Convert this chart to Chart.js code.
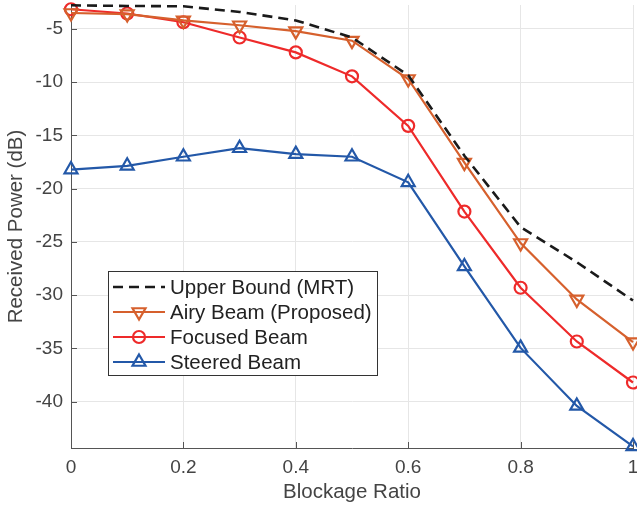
<!DOCTYPE html>
<html>
<head>
<meta charset="utf-8">
<script src="https://cdn.jsdelivr.net/npm/chart.js@4.4.0/dist/chart.umd.min.js"></script>
<style>
  html, body { margin: 0; padding: 0; background: #fff; }
  #wrap { width: 637px; height: 508px; }
</style>
</head>
<body>
<div id="wrap"><canvas id="power-chart" width="637" height="508"></canvas></div>
<script>
// Received power vs. blockage ratio
const blockage = [0, 0.1, 0.2, 0.3, 0.4, 0.5, 0.6, 0.7, 0.8, 0.9, 1.0];
const upperBound = [-2.78, -2.84, -2.87, -3.4, -4.2, -5.8, -9.35, -16.9, -23.6, -26.9, -30.5];
const airyBeam = [-3.5, -3.6, -4.2, -4.65, -5.2, -6.1, -9.7, -17.55, -25.1, -30.4, -34.4];
const focusedBeam = [-3.15, -3.55, -4.37, -5.8, -7.2, -9.45, -14.1, -22.15, -29.3, -34.35, -38.2];
const steeredBeam = [-18.2, -17.85, -17.0, -16.2, -16.75, -17.0, -19.4, -27.3, -34.95, -40.4, -44.2];
const seriesNames = ['Upper Bound (MRT)', 'Airy Beam (Proposed)', 'Focused Beam', 'Steered Beam'];

const FONT = '"Liberation Sans", Arial, Helvetica, sans-serif';
const pts = arr => arr.map((v, i) => ({ x: blockage[i], y: v }));

// inward tick marks on the bottom and left axes
const inwardTicks = {
    id: 'inwardTicks',
    afterDatasetsDraw(chart) {
        const { ctx, chartArea, scales } = chart;
        ctx.save();
        ctx.strokeStyle = '#555';
        ctx.lineWidth = 1;
        ctx.beginPath();
        scales.x.ticks.forEach(t => {
            const px = Math.round(scales.x.getPixelForValue(t.value)) + 0.5;
            ctx.moveTo(px, chartArea.bottom);
            ctx.lineTo(px, chartArea.bottom - 6);
        });
        scales.y.ticks.forEach(t => {
            const py = Math.round(scales.y.getPixelForValue(t.value)) + 0.5;
            ctx.moveTo(chartArea.left, py);
            ctx.lineTo(chartArea.left + 6, py);
        });
        ctx.stroke();
        ctx.restore();
    }
};

// boxed legend inside the plot, lower left
const boxLegend = {
    id: 'boxLegend',
    afterDraw(chart) {
        const ctx = chart.ctx;
        const x0 = 108.5, y0 = 271.5, w = 269, h = 104;
        ctx.save();
        ctx.fillStyle = '#fff';
        ctx.fillRect(x0, y0, w, h);
        ctx.strokeStyle = '#333';
        ctx.lineWidth = 1;
        ctx.strokeRect(x0, y0, w, h);
        chart.data.datasets.forEach((ds, i) => {
            const y = 287 + i * 25;
            ctx.strokeStyle = ds.borderColor;
            ctx.lineWidth = ds.borderWidth;
            ctx.setLineDash(ds.borderDash || []);
            ctx.beginPath();
            ctx.moveTo(113, y);
            ctx.lineTo(165, y);
            ctx.stroke();
            ctx.setLineDash([]);
            if (ds.pointRadius > 0) {
                ctx.fillStyle = 'rgba(0,0,0,0)';
                ctx.strokeStyle = ds.pointBorderColor;
                ctx.lineWidth = ds.pointBorderWidth;
                Chart.helpers.drawPoint(ctx, {
                    pointStyle: ds.pointStyle,
                    rotation: ds.pointRotation || 0,
                    radius: ds.pointRadius,
                    borderWidth: ds.pointBorderWidth
                }, 139, y);
            }
            ctx.fillStyle = '#222';
            ctx.font = '20.5px ' + FONT;
            ctx.textBaseline = 'middle';
            ctx.textAlign = 'left';
            ctx.fillText(ds.label, 170, y + 1);
        });
        ctx.restore();
    }
};

const lineSet = (label, data, color, extra) => Object.assign({
    label: label,
    data: pts(data),
    borderColor: color,
    borderWidth: 2.2,
    pointBorderColor: color,
    pointBackgroundColor: 'rgba(0,0,0,0)',
    pointBorderWidth: 2.2,
    pointHoverRadius: 0,
    clip: false,
    tension: 0
}, extra);

new Chart(document.getElementById('power-chart').getContext('2d'), {
    type: 'line',
    data: {
        datasets: [
            lineSet(seriesNames[0], upperBound, '#1a1a1a', { borderDash: [10, 6], borderWidth: 2.6, pointRadius: 0 }),
            lineSet(seriesNames[1], airyBeam, '#D6602D', { pointStyle: 'triangle', pointRotation: 180, pointRadius: 7.5 }),
            lineSet(seriesNames[2], focusedBeam, '#EE2A2A', { pointStyle: 'circle', pointRadius: 6 }),
            lineSet(seriesNames[3], steeredBeam, '#2358A8', { pointStyle: 'triangle', pointRadius: 7.5 })
        ]
    },
    options: {
        responsive: false,
        devicePixelRatio: 1,
        animation: false,
        layout: { autoPadding: false, padding: { left: 0, right: 4, top: 5, bottom: 0 } },
        plugins: {
            legend: { display: false },
            tooltip: { enabled: false }
        },
        scales: {
            x: {
                type: 'linear',
                min: 0,
                max: 1,
                afterFit: s => { s.height = 60; s.paddingLeft = 0; s.paddingRight = 0; },
                ticks: {
                    stepSize: 0.2,
                    padding: 8,
                    color: '#444',
                    font: { family: FONT, size: 19 },
                    maxRotation: 0,
                    callback: v => String(Math.round(v * 10) / 10)
                },
                grid: { color: '#e6e6e6', drawTicks: false },
                border: { color: '#555', width: 1 },
                title: {
                    display: true,
                    text: 'Blockage Ratio',
                    color: '#444',
                    font: { family: FONT, size: 20.5 },
                    padding: { top: 0, bottom: 3 }
                }
            },
            y: {
                min: -44.35,
                max: -2.75,
                afterFit: s => { s.width = 71; s.paddingTop = 0; s.paddingBottom = 0; },
                ticks: {
                    stepSize: 5,
                    includeBounds: false,
                    padding: 8,
                    color: '#444',
                    font: { family: FONT, size: 19 }
                },
                grid: { color: '#e6e6e6', drawTicks: false },
                border: { color: '#555', width: 1 },
                title: {
                    display: true,
                    text: 'Received Power (dB)',
                    color: '#444',
                    font: { family: FONT, size: 20.5 },
                    padding: { top: 4, bottom: 0 }
                }
            }
        }
    },
    plugins: [inwardTicks, boxLegend]
});
</script>
</body>
</html>
